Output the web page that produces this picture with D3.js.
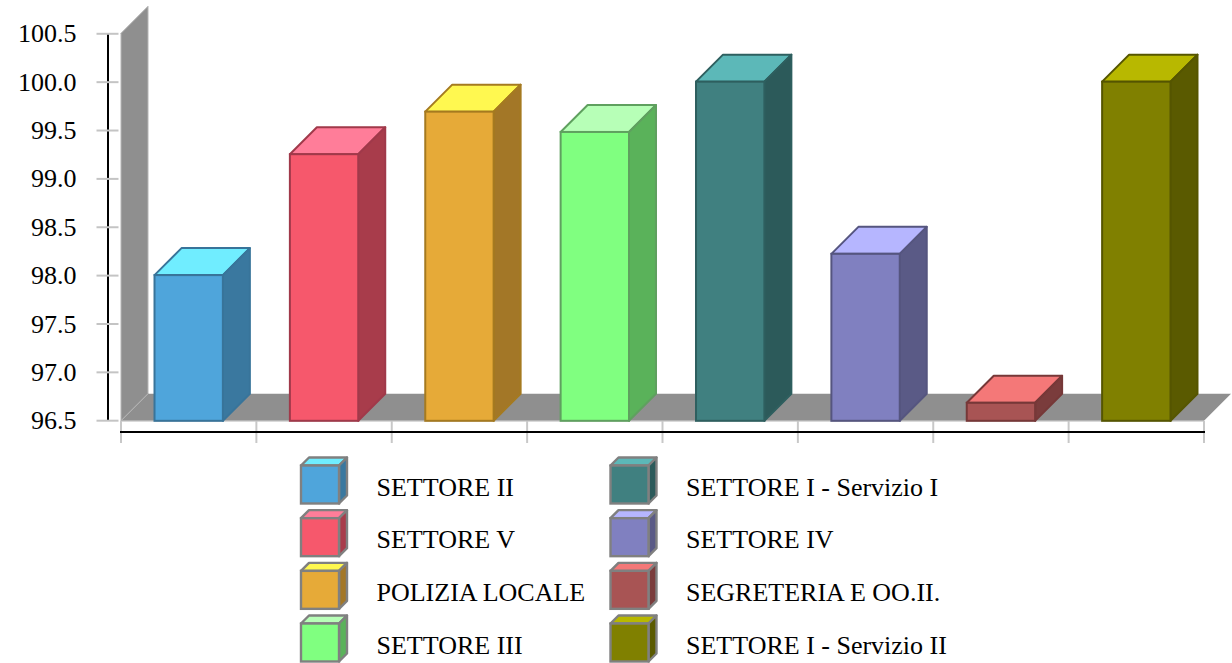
<!DOCTYPE html>
<html>
<head>
<meta charset="utf-8">
<script src="https://cdn.jsdelivr.net/npm/d3@7"></script>
<style>
html, body { margin: 0; padding: 0; background: #fff; overflow: hidden; }
text { font-family: "Liberation Serif", serif; fill: #000; }
</style>
</head>
<body>
<div id="chart"></div>
<script>
const categories = ["SETTORE II", "SETTORE V", "POLIZIA LOCALE", "SETTORE III", "SETTORE I - Servizio I", "SETTORE IV", "SEGRETERIA E OO.II.", "SETTORE I - Servizio II"];
const values = [98.0, 99.25, 99.69, 99.48, 100.0, 98.22, 96.68, 100.0];
const yTicks = [96.5, 97.0, 97.5, 98.0, 98.5, 99.0, 99.5, 100.0, 100.5];

const frontColors = ["#4fa5db", "#f6586c", "#e6aa38", "#80ff80", "#408080", "#8080c0", "#a85454", "#808000"];
const topColors = ["#70edff", "#ff7d99", "#fff850", "#b7ffb7", "#5cb8b8", "#b6b6ff", "#f47878", "#b8b800"];
const sideColors = ["#3a789f", "#a83c4b", "#a37727", "#5ab25a", "#2c5a5a", "#5a5a86", "#7a3c3c", "#5a5a00"];
const edgeColors = ["#38749a", "#a0394a", "#a57a20", "#5fa05f", "#2e5f5f", "#55557f", "#763838", "#555500"];

const width = 1232, height = 663;
const depth = 27;   // 3d offset of the plot
const baseY = 420.8;  // floor front edge, sits a bit under the 96.5 tick
const wallColor = "#8f8f8f";

const svg = d3.select("#chart").append("svg")
    .attr("width", width)
    .attr("height", height)
    .style("display", "block");

const y = d3.scaleLinear().domain([96.5, 100.5]).range([420.2, 33.3]);
const x = d3.scaleBand().domain(categories).range([121, 1204]);
const barInset = x.bandwidth() * 0.2475, barWidth = x.bandwidth() * 0.505;

function poly(points) {
    return points.map(p => p.join(",")).join(" ");
}

// wall and floor
svg.append("polygon")
    .attr("points", poly([[121, y(100.5)], [121 + depth, y(100.5) - depth], [121 + depth, baseY - depth], [121, baseY]]))
    .attr("fill", wallColor).attr("stroke", "#b5b5b5").attr("stroke-width", 1);
svg.append("polygon")
    .attr("points", poly([[121, baseY], [121 + depth, baseY - depth], [1204 + depth, baseY - depth], [1204, baseY]]))
    .attr("fill", wallColor).attr("stroke", "none");
svg.append("line")
    .attr("x1", 121).attr("x2", 1204).attr("y1", baseY + 0.5).attr("y2", baseY + 0.5)
    .attr("stroke", "#d0d0d0").attr("stroke-width", 1);
svg.append("line")
    .attr("x1", 121).attr("x2", 121 + depth).attr("y1", baseY).attr("y2", baseY - depth)
    .attr("stroke", "#b5b5b5").attr("stroke-width", 1);

// y axis
const yAxis = svg.append("g")
    .attr("transform", "translate(107.5,0)")
    .call(d3.axisLeft(y).tickValues(yTicks).tickFormat(d3.format(".1f")).tickSize(11).tickSizeOuter(0));
yAxis.select(".domain").attr("stroke", "#000").attr("stroke-width", 2);
yAxis.selectAll(".tick line").attr("x1", -11).attr("x2", 11).attr("stroke", "#c4c4c4").attr("stroke-width", 2);
yAxis.selectAll(".tick text").attr("x", -31).attr("dy", "0.33em")
    .style("font-family", '"Liberation Serif", serif').style("font-size", "26px").attr("fill", "#000");
yAxis.raise();

// x axis
const xEdges = categories.map(c => x(c)).concat([x.range()[1]]);
svg.selectAll(".xtick").data(xEdges).enter().append("line")
    .attr("class", "xtick")
    .attr("x1", d => d).attr("x2", d => d)
    .attr("y1", 421).attr("y2", 443)
    .attr("stroke", "#c8c8c8").attr("stroke-width", 2);
svg.append("line")
    .attr("x1", 120).attr("x2", 1205).attr("y1", 432).attr("y2", 432)
    .attr("stroke", "#000").attr("stroke-width", 2);

// bars
const bars = svg.selectAll(".bar").data(categories).enter().append("g").attr("class", "bar");

function drawBox(g, x0, x1, yTop, yBase, d, front, top, side, edge, sw) {
    g.append("polygon")
        .attr("points", poly([[x0, yTop], [x0 + d, yTop - d], [x1 + d, yTop - d], [x1, yTop]]))
        .attr("fill", top).attr("stroke", edge).attr("stroke-width", sw).attr("stroke-linejoin", "round");
    g.append("polygon")
        .attr("points", poly([[x1, yTop], [x1 + d, yTop - d], [x1 + d, yBase - d], [x1, yBase]]))
        .attr("fill", side).attr("stroke", edge).attr("stroke-width", sw).attr("stroke-linejoin", "round");
    g.append("rect")
        .attr("x", x0).attr("y", yTop).attr("width", x1 - x0).attr("height", yBase - yTop)
        .attr("fill", front).attr("stroke", edge).attr("stroke-width", sw);
}

bars.each(function (c, i) {
    const x0 = x(c) + barInset;
    drawBox(d3.select(this), x0, x0 + barWidth, y(values[i]), baseY, depth,
        frontColors[i], topColors[i], sideColors[i], edgeColors[i], 2);
});

// legend
const legendRows = 4;
const legendX = d3.scaleOrdinal().domain([0, 1]).range([301, 610.5]);
const legendY = d3.scalePoint().domain(d3.range(legendRows)).range([465.5, 623.5]);
const legend = svg.selectAll(".legend-item").data(categories).enter().append("g").attr("class", "legend-item");

legend.each(function (c, i) {
    const col = Math.floor(i / legendRows), row = i % legendRows;
    const lx = legendX(col), ly = legendY(row);
    const g = d3.select(this);
    drawBox(g, lx, lx + 38, ly, ly + 38, 8, frontColors[i], topColors[i], sideColors[i], "#808080", 2.4);
    g.append("text")
        .attr("x", lx + 75.5)
        .attr("y", ly + 30)
        .style("font-size", "26px")
        .text(c);
});
</script>
</body>
</html>
